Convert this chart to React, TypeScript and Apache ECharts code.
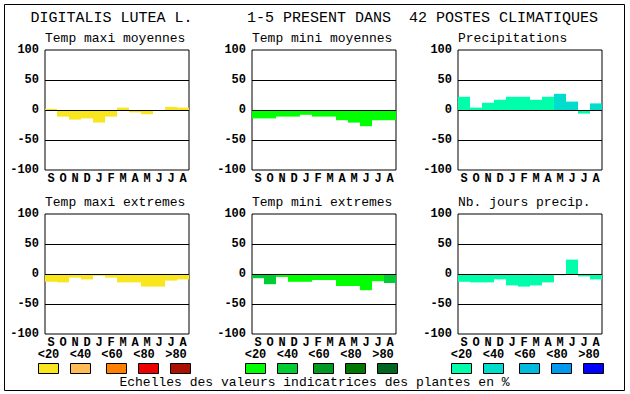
import React, { useEffect, useRef } from "react";
import * as echarts from "echarts";

const months = ["S", "O", "N", "D", "J", "F", "M", "A", "M", "J", "J", "A"];
const yTicks = [-100, -50, 0, 50, 100];

const tMaxMoy = [2, -11, -16, -14, -21, -11, 4, -4, -7, 0, 5, 4];
const tMinMoy = [-14, -14, -11, -11, -8, -11, -11, -17, -21, -27, -17, -17];
const precip = [22, 4, 12, 17, 22, 22, 17, 22, 27, 14, -6, 11];
const tMaxExt = [-13, -14, -6, -9, -3, -6, -14, -14, -21, -21, -11, -9];
const tMinExt = [-7, -17, -5, -13, -13, -10, -10, -20, -20, -27, -12, -15];
const nbJours = [-13, -14, -14, -9, -19, -21, -19, -14, -2, 24, -4, -9];

// scale class (0: <20, 1: <40, ...) of each bar
const tMaxMoyCls = [0, 0, 0, 0, 0, 0, 0, 0, 0, 0, 0, 0];
const tMinMoyCls = [0, 0, 0, 0, 0, 0, 0, 0, 0, 0, 0, 0];
const precipCls = [0, 0, 0, 0, 0, 0, 0, 0, 1, 1, 0, 1];
const tMaxExtCls = [0, 0, 0, 0, 0, 0, 0, 0, 0, 0, 0, 0];
const tMinExtCls = [1, 1, 0, 0, 0, 0, 0, 0, 0, 0, 0, 1];
const nbJoursCls = [0, 0, 0, 0, 0, 0, 0, 0, 0, 0, 0, 0];

const scaleLabels = ["<20", "<40", "<60", "<80", ">80"];
const tempMaxColors = ["#FAE61E", "#FFBB55", "#FF7F00", "#EE0000", "#AA1100"];
const tempMinColors = ["#00FF00", "#00CC33", "#009922", "#007700", "#006622"];
const precColors = ["#00FFAA", "#00DDCC", "#00BBDD", "#0099EE", "#0000FF"];

const panelTitles = [
  "Temp maxi moyennes",
  "Temp mini moyennes",
  "Precipitations",
  "Temp maxi extremes",
  "Temp mini extremes",
  "Nb. jours precip.",
];

const MONO = '"Liberation Mono", "DejaVu Sans Mono", monospace';

export default function App() {
  const ref = useRef<HTMLDivElement>(null);

  useEffect(() => {
    document.body.style.margin = "0";
    if (!ref.current) return;
    const chart = echarts.init(ref.current, undefined, { renderer: "svg" });

    const panels = [
      { vals: tMaxMoy, cls: tMaxMoyCls, pal: tempMaxColors },
      { vals: tMinMoy, cls: tMinMoyCls, pal: tempMinColors },
      { vals: precip, cls: precipCls, pal: precColors },
      { vals: tMaxExt, cls: tMaxExtCls, pal: tempMaxColors },
      { vals: tMinExt, cls: tMinExtCls, pal: tempMinColors },
      { vals: nbJours, cls: nbJoursCls, pal: precColors },
    ];
    const lefts = [45, 252, 458];
    const tops = [50, 214];
    const W = 144;
    const H = 120;

    const grids: any[] = [];
    const xAxes: any[] = [];
    const yAxes: any[] = [];
    const series: any[] = [];
    const graphics: any[] = [];

    panels.forEach((p, i) => {
      const col = i % 3;
      const row = Math.floor(i / 3);
      const left = lefts[col];
      const top = tops[row];
      grids.push({
        left,
        top,
        width: W,
        height: H,
        show: true,
        borderColor: "#000",
        borderWidth: 1,
        backgroundColor: "transparent",
      });
      xAxes.push({
        type: "category",
        gridIndex: i,
        data: months,
        axisLine: { show: false },
        axisTick: { show: false },
        axisLabel: {
          interval: 0,
          margin: 3,
          color: "#000",
          fontFamily: MONO,
          fontWeight: "bold",
          fontSize: 12,
          lineHeight: 11,
        },
      });
      yAxes.push({
        type: "value",
        gridIndex: i,
        min: yTicks[0],
        max: yTicks[yTicks.length - 1],
        interval: 50,
        axisLine: { show: false },
        axisTick: { show: false },
        splitLine: { show: false },
        axisLabel: {
          margin: 6,
          color: "#000",
          fontFamily: MONO,
          fontWeight: "bold",
          fontSize: 12,
        },
      });
      series.push({
        type: "bar",
        xAxisIndex: i,
        yAxisIndex: i,
        barCategoryGap: "0%",
        data: p.vals.map((v, k) => ({
          value: v,
          itemStyle: { color: p.pal[p.cls[k]] },
        })),
        markLine: {
          silent: true,
          symbol: ["none", "none"],
          label: { show: false },
          lineStyle: { color: "#000", width: 1, type: "solid" },
          data: [{ yAxis: 50 }, { yAxis: 0 }, { yAxis: -50 }],
        },
      });
      graphics.push({
        type: "text",
        x: left,
        y: top - 12,
        style: {
          text: panelTitles[i],
          font: `13px ${MONO}`,
          fill: "#000",
          verticalAlign: "middle",
        },
      });
    });

    // legend scales under bottom row
    const labelOffsets = [3.5, 35.5, 67, 99, 131];
    const boxOffsets = [-6.5, 25.5, 61.5, 93.5, 125.5];
    const palettes = [tempMaxColors, tempMinColors, precColors];
    lefts.forEach((left, c) => {
      scaleLabels.forEach((lab, k) => {
        graphics.push({
          type: "text",
          x: left + labelOffsets[k],
          y: 355,
          style: {
            text: lab,
            font: `bold 12px ${MONO}`,
            lineHeight: 11,
            fill: "#000",
            align: "center",
            verticalAlign: "middle",
          },
        });
        graphics.push({
          type: "rect",
          shape: { x: left + boxOffsets[k], y: 363.5, width: 20, height: 10 },
          style: { fill: palettes[c][k], stroke: "#000", lineWidth: 1 },
        });
      });
    });

    graphics.push(
      {
        type: "rect",
        shape: { x: 4.5, y: 4.5, width: 620, height: 386 },
        style: { fill: "none", stroke: "#000", lineWidth: 1 },
        silent: true,
      },
      {
        type: "text",
        x: 30.5,
        y: 18.5,
        style: { text: "DIGITALIS LUTEA L.", font: `15px ${MONO}`, fill: "#000", verticalAlign: "middle" },
      },
      {
        type: "text",
        x: 247,
        y: 18.5,
        style: { text: "1-5 PRESENT DANS", font: `15px ${MONO}`, fill: "#000", verticalAlign: "middle" },
      },
      {
        type: "text",
        x: 409,
        y: 18.5,
        style: { text: "42 POSTES CLIMATIQUES", font: `15px ${MONO}`, fill: "#000", verticalAlign: "middle" },
      },
      {
        type: "text",
        x: 314.5,
        y: 382.5,
        style: {
          text: "Echelles des valeurs indicatrices des plantes en %",
          font: `13px ${MONO}`,
          fill: "#000",
          align: "center",
          verticalAlign: "middle",
        },
      }
    );

    chart.setOption({
      animation: false,
      backgroundColor: "#fff",
      grid: grids,
      xAxis: xAxes,
      yAxis: yAxes,
      series,
      graphic: graphics,
    });

    return () => chart.dispose();
  }, []);

  return (
    <div
      ref={ref}
      style={{ position: "fixed", left: 0, top: 0, width: 630, height: 394 }}
    />
  );
}
